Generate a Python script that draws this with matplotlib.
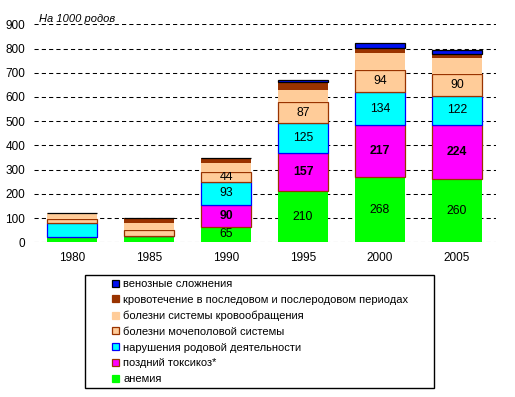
import numpy as np
import matplotlib.pyplot as plt
from matplotlib.patches import Rectangle, Patch

plt.rcParams['font.family'] = ['Liberation Sans', 'DejaVu Sans']

# данные (на 1000 родов)
years = ['1980', '1985', '1990', '1995', '2000', '2005']
anemia = [23, 27, 65, 210, 268, 260]
toxicosis = [0, 0, 90, 157, 217, 224]
labor = [57, 0, 93, 125, 134, 122]
urinary = [16, 23, 44, 87, 94, 90]
circulatory = [27, 30, 34, 50, 70, 65]
bleeding = [0, 20, 23, 31, 19, 18]
venous = [0, 0, 0, 12, 19, 13]

names = ['анемия', 'поздний токсикоз*', 'нарушения родовой деятельности',
         'болезни мочеполовой системы', 'болезни системы кровообращения',
         'кровотечение в последовом и послеродовом периодах', 'венозные сложнения']
series = [anemia, toxicosis, labor, urinary, circulatory, bleeding, venous]
faces = ['#00FF00', '#FF00FF', '#00FFFF', '#FFCC99', '#FFCC99', '#993300', '#0010F0']
edges = ['none', '#993300', '#0000FF', '#993300', 'none', 'none', 'black']
labelled = [True, True, True, True, False, False, False]
bold = [False, True, False, False, False, False, False]

fig = plt.figure(figsize=(5.15, 3.97), dpi=100)
ax = fig.add_axes([33.5 / 515, 1 - 242.3 / 397, 462 / 515, 218 / 397])

x = np.arange(len(years))
bottom = np.zeros(len(years))
handles = []
for vals, name, fc, ec, lab, b in zip(series, names, faces, edges, labelled, bold):
    vals = np.array(vals, dtype=float)
    bars = ax.bar(x, vals, 0.66, bottom=bottom, color=fc,
                  edgecolor=ec, linewidth=0.9, zorder=3)
    if lab:
        texts = ['' if i < 2 else str(int(v)) for i, v in enumerate(vals)]
        ax.bar_label(bars, labels=texts, label_type='center', fontsize=8.8,
                     fontweight='bold' if b else 'normal')
    bottom += vals
    handles.append(Patch(facecolor=fc, edgecolor=ec if ec != 'none' else fc, linewidth=0.9))

ax.set_xlim(-0.5, 5.5)
ax.set_ylim(0, 900)
ax.set_yticks(range(0, 901, 100))
ax.set_xticks(x)
ax.set_xticklabels(years)
ax.tick_params(length=0, labelsize=8.5)
ax.tick_params(axis='x', pad=7)
ax.tick_params(axis='y', pad=6)
for s in ax.spines.values():
    s.set_visible(False)
ax.yaxis.grid(True, color='black', linestyle=(0, (4, 3)), linewidth=0.75)
ax.set_axisbelow(True)

fig.text(39 / 515, 1 - 19 / 397, 'На 1000 родов', fontsize=8, style='italic', va='center')

fig.add_artist(Rectangle((85 / 515, 1 - 388 / 397), 349 / 515, 113 / 397,
                         transform=fig.transFigure, fill=False, ec='black', lw=1))
fig.legend(handles[::-1], names[::-1], loc='upper left',
           bbox_to_anchor=(112 / 515, 1 - 279 / 397), frameon=False, fontsize=8,
           borderpad=0, handlelength=0.6, handleheight=0.6, handletextpad=0.4,
           labelspacing=0.52, borderaxespad=0)

fig.savefig('out.png', dpi=100)
